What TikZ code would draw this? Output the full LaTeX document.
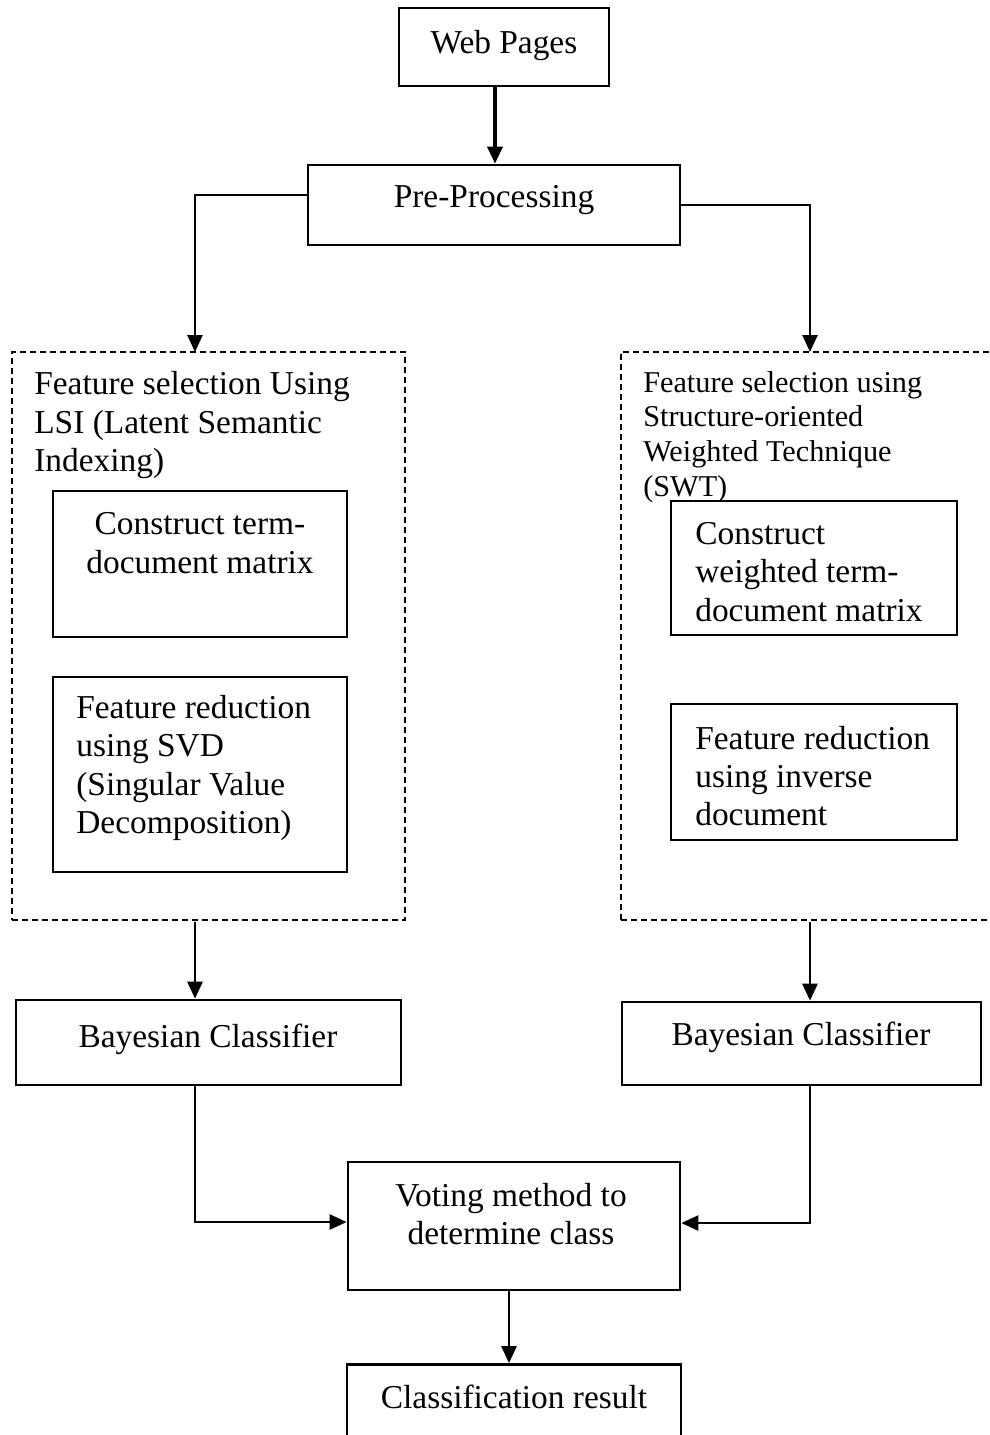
\documentclass[tikz,border=0pt]{standalone}
\usepackage{fontspec}
\setmainfont{Liberation Serif}
\usepackage{tikz}
\usetikzlibrary{arrows.meta,calc}

\begin{document}
\begin{tikzpicture}[x=0.01cm, y=-0.01cm, line width=0.75pt,
		box/.style={draw, rectangle, inner sep=0pt},
		dbox/.style={draw, rectangle, inner sep=0pt, dash pattern=on 0.06cm off 0.04cm},
		txt/.style={inner sep=0pt, font=\fontsize{9.5}{10.9}\selectfont},
		stxt/.style={inner sep=0pt, font=\fontsize{8.6}{9.9}\selectfont},
		arr/.style={-{Triangle[length=0.17cm,width=0.15cm]}}]
		% 画布范围
		\clip (0,0) rectangle (990,1435);
		
		% 顶部两个框
		\node[box, minimum width=2.10cm, minimum height=0.78cm] (wp) at (504,47) {};
		\node[txt] (wpt) at (504,46) {Web Pages};
		\node[box, minimum width=3.72cm, minimum height=0.80cm] (pre) at (494,205) {};
		\node[txt] (pret) at (494,200) {Pre-Processing};
		
		% 两个虚线框
		\node[dbox, minimum width=3.93cm, minimum height=5.68cm] (lsi) at (208.5,636) {};
		\node[dbox, minimum width=3.95cm, minimum height=5.68cm] (swt) at (818.5,636) {};
		\coordinate (lcol) at (195,352);
		\coordinate (rcol) at (810,352);
		
		% 左边: LSI
		\node[txt, anchor=west, align=left] (lsit) at (33,425) {Feature selection Using\\LSI (Latent Semantic\\Indexing)};
		\node[box, minimum width=2.94cm, minimum height=1.46cm] (ctd) at (200,564) {};
		\node[txt, align=center] (ctdt) at (200,543) {Construct term-\\document matrix};
		\node[box, minimum width=2.94cm, minimum height=1.95cm] (svd) at (200,774.5) {};
		\node[txt, anchor=west, align=left] (svdt) at (75,768) {Feature reduction\\using SVD\\(Singular Value\\Decomposition)};
		
		% 右边: SWT
		\node[stxt, anchor=west, align=left] (swtt) at (642,437) {Feature selection using\\Structure-oriented\\Weighted Technique\\(SWT)};
		\node[box, fill=white, minimum width=2.86cm, minimum height=1.34cm] (wtd) at (814,568) {};
		\node[txt, anchor=west, align=left] (wtdt) at (694,572) {Construct\\weighted term-\\document matrix};
		\node[box, minimum width=2.86cm, minimum height=1.36cm] (inv) at (814,772) {};
		\node[txt, anchor=west, align=left] (invt) at (694,776) {Feature reduction\\using inverse\\document};
		
		% 分类器
		\node[box, minimum width=3.85cm, minimum height=0.85cm] (bayl) at (208.5,1042.5) {};
		\node[txt] (baylt) at (208,1039) {Bayesian Classifier};
		\node[box, minimum width=3.59cm, minimum height=0.83cm] (bayr) at (801.5,1043.5) {};
		\node[txt] (bayrt) at (801,1037) {Bayesian Classifier};
		
		% 投票与结果
		\node[box, minimum width=3.32cm, minimum height=1.28cm] (vote) at (514,1226) {};
		\node[txt, align=center] (votet) at (511,1214) {Voting method to\\determine class};
		\node[box, minimum width=3.34cm, minimum height=1.15cm] (res) at (514,1422) {};
		\node[txt] (rest) at (514,1397) {Classification result};
		
		% 连线
		\draw[arr, line width=1pt] (wp.south -| 495,0) -- (pre.north -| 495,0);
		\draw[arr] ([yshift=0.1cm]pre.west) -| (lcol);
		\draw[arr] (pre.east) -| (rcol);
		\draw[arr] (lsi.south -| lcol) -- (bayl.north -| lcol);
		\draw[arr] (swt.south -| rcol) -- (bayr.north -| rcol);
		\draw[arr] (bayl.south -| lcol) |- ([yshift=0.04cm]vote.west);
		\draw[arr] (bayr.south -| rcol) |- ([yshift=0.03cm]vote.east);
		\draw[arr] (vote.south -| 509,0) -- (res.north -| 509,0);
	\end{tikzpicture}
\end{document}
